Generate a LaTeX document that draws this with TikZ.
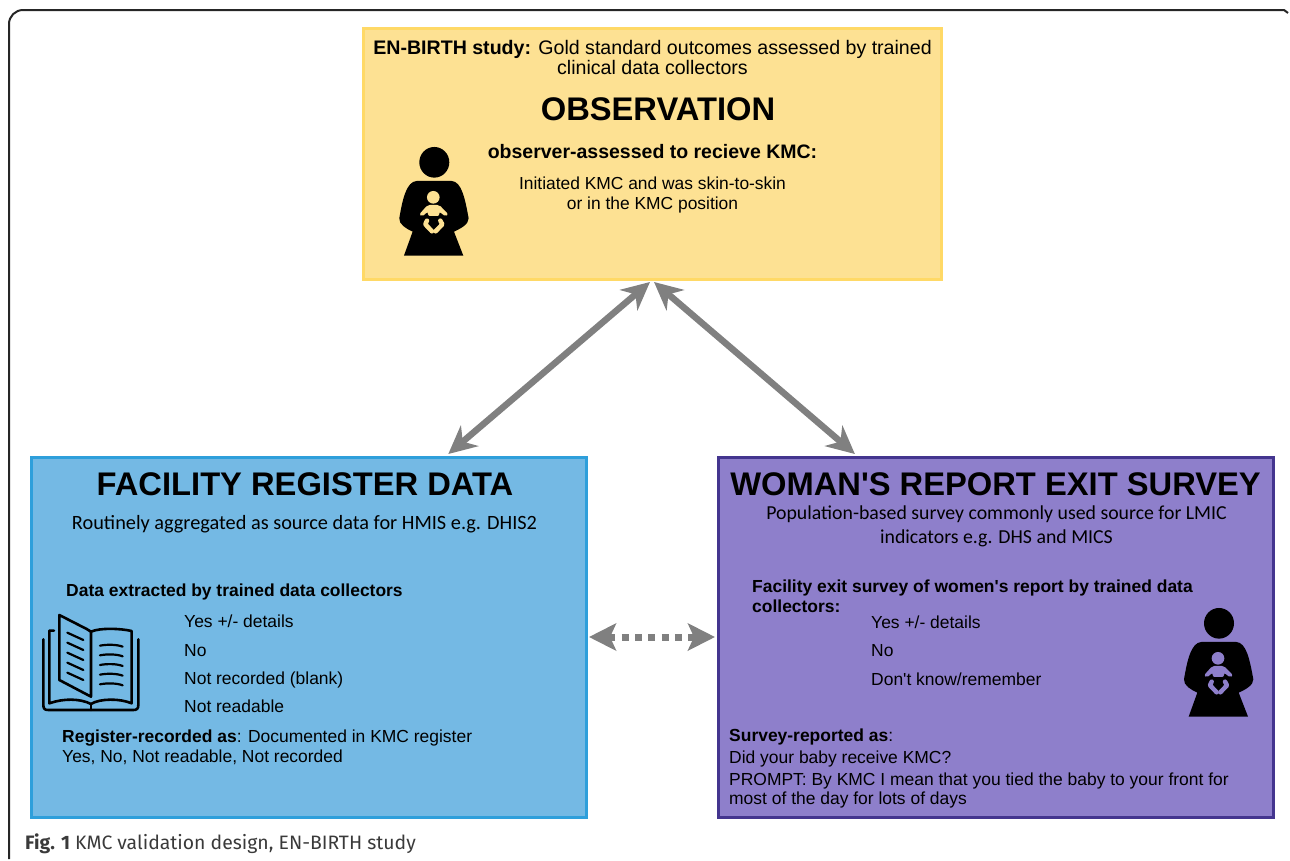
\documentclass[tikz,border=0pt]{standalone}
\usepackage{fontspec}
\setmainfont{Liberation Sans}[Ligatures=TeXOff]
\newfontfamily\calib{Carlito}[Ligatures=TeXOff]
\newfontfamily\capfont{Fira Sans}
\usetikzlibrary{arrows.meta,calc}
\definecolor{yfill}{HTML}{FDE193}
\definecolor{yline}{HTML}{FFD966}
\definecolor{bfill}{HTML}{74B9E4}
\definecolor{bline}{HTML}{2E9FDB}
\definecolor{pfill}{HTML}{8E7FCB}
\definecolor{pline}{HTML}{44358F}
\definecolor{arrowgrey}{HTML}{808080}
\definecolor{capgrey}{HTML}{3A3A3A}
\newcommand{\fsz}[1]{\fontsize{#1}{#1}\selectfont}
\tikzset{
  box/.style={draw=#1,line width=3pt,minimum width=0pt,inner sep=0pt},
  txt/.style={anchor=base west,inner sep=0pt,font=\fsz{17.45}},
  ctxt/.style={anchor=base,inner sep=0pt,font=\fsz{17.45}},
  biglabel/.style={anchor=base,inner sep=0pt,font=\fsz{32.7}\bfseries},
  link/.style={arrowgrey,line width=6.5pt,{Stealth[length=28pt,width=27pt,inset=9pt]}-{Stealth[length=28pt,width=27pt,inset=9pt]}},
  linkd/.style={arrowgrey,line width=7pt,dash pattern=on 7pt off 6.3pt,{Stealth[length=27pt,width=27pt,inset=6pt]}-{Stealth[length=27pt,width=27pt,inset=6pt]}},
  pics/mother/.style={code={
    \begin{scope}[x=0.3333pt,y=-0.3333pt,xshift=-163*0.3333pt,yshift=82*0.3333pt]
      \fill[black] (163,82) ellipse (45 and 46);
      \fill[black] (110,138) -- (215,138) .. controls (245,140) and (255,190) .. (266,250) .. controls (267,268) and (240,282) .. (222,290) -- (250,362) -- (72,362) -- (98,290) .. controls (80,282) and (56,268) .. (58,250) .. controls (68,190) and (80,140) .. (110,138) -- cycle;
      \fill[#1] (160,187) circle (19);
      \fill[#1,rounded corners=2pt] (143,210) -- (178,210) -- (205,238) -- (197,245) -- (178,230) -- (178,243) -- (144,243) -- (144,230) -- (126,245) -- (118,238) -- cycle;
      \draw[#1,line width=4.5pt,line cap=round,line join=round] (141,257) -- (136,268) -- (156,289);
      \draw[#1,line width=4.5pt,line cap=round,line join=round] (181,257) -- (187,268) -- (167,289);
    \end{scope}
  }},
  bookline/.style={black,line width=2.6pt,line cap=round,line join=round}
}
\begin{document}
\begin{tikzpicture}[x=1pt,y=-1pt]
\useasboundingbox (0,0) rectangle (1290,860);
% page frame
\draw[black!85,line width=2pt] (9,859) -- (9,24) arc[start angle=180,end angle=90,radius=14pt] -- (1284,10) -- (1288,13);
% boxes
\node[box=yline,fill=yfill,minimum width=578pt,minimum height=251pt] (obs) at (652,153.5) {};
\node[box=bline,fill=bfill,minimum width=555pt,minimum height=360pt] (reg) at (308.5,637) {};
\node[box=pline,fill=pfill,minimum width=555pt,minimum height=360pt] (sur) at (995.5,637) {};
% observation text
\node[ctxt,font=\fsz{19.6}] (o1) at (652.5,54) {\textbf{EN-BIRTH study:} Gold standard outcomes assessed by trained};
\node[ctxt,font=\fsz{19.6}] (o2) at (652.5,74) {clinical data collectors};
\node[biglabel] (o3) at (658,120) {OBSERVATION};
\node[ctxt,font=\fsz{19.5}\bfseries] (o4) at (652.5,158) {observer-assessed to recieve KMC:};
\node[ctxt,font=\fsz{17.4}] (o5) at (652.5,189) {Initiated KMC and was skin-to-skin};
\node[ctxt,font=\fsz{17.4}] (o6) at (652.5,209) {or in the KMC position};
\pic at (434.3,162.3) {mother=yfill};
% register text
\node[biglabel] (r1) at (305,495) {FACILITY REGISTER DATA};
\node[ctxt,font=\fsz{20.3}\calib] (r2) at (304.5,529) {Routinely aggregated as source data for HMIS e.g. DHIS2};
\node[txt,font=\fsz{17.45}\bfseries] (r3) at (66,596) {Data extracted by trained data collectors};
\node[txt] (r4) at (184,627) {Yes +/- details};
\node[txt] (r5) at (184,656) {No};
\node[txt] (r6) at (184,684) {Not recorded (blank)};
\node[txt] (r7) at (184,712) {Not readable};
\node[txt] (r8) at (62,742) {\textbf{Register-recorded as}: Documented in KMC register};
\node[txt] (r9) at (62,762) {Yes, No, Not readable, Not recorded};
% book icon
\begin{scope}[x=0.3333pt,y=-0.3333pt,xshift=20pt,yshift=-560pt]
  \draw[bookline] (118,165) -- (200,207) -- (213,215) -- (213,410) -- (118,360) -- cycle;
  \draw[bookline] (213,215) .. controls (240,203) and (300,205) .. (335,213) -- (335,430) .. controls (300,415) and (240,415) .. (213,432) .. controls (180,415) and (130,415) .. (88,430) -- (88,212) -- (102,212);
  \draw[bookline] (70,238) -- (70,435) .. controls (70,447) and (75,450) .. (85,450) -- (340,450) .. controls (350,450) and (355,447) .. (355,435) -- (355,238);
  \draw[bookline] (213,432) -- (213,450);
  \foreach \k in {0,1,2,3,4} {
    \draw[bookline,line width=2.2pt] (142,{218+30*\k}) -- (190,{240+30*\k});
    \draw[bookline,line width=2.2pt] (240,{257+29*\k}) .. controls (260,{253+29*\k}) and (290,{253+29*\k}) .. (308,{260+29*\k});
  }
\end{scope}
% survey text
\node[biglabel] (s1) at (995.5,495) {WOMAN'S REPORT EXIT SURVEY};
\node[ctxt,font=\fsz{19.8}\calib] (s2) at (996.5,519) {Population-based survey commonly used source for LMIC};
\node[ctxt,font=\fsz{19.8}\calib] (s3) at (996.5,543) {indicators e.g. DHS and MICS};
\node[txt,font=\fsz{17.45}\bfseries] (s4) at (752,592) {Facility exit survey of women's report by trained data};
\node[txt,font=\fsz{17.45}\bfseries] (s5) at (752,612) {collectors:};
\node[txt] (s6) at (871,628) {Yes +/- details};
\node[txt] (s7) at (871,656) {No};
\node[txt] (s8) at (871,685) {Don't know/remember};
\node[txt] (s9) at (729,741) {\textbf{Survey-reported as}:};
\node[txt] (s10) at (729,763) {Did your baby receive KMC?};
\node[txt] (s11) at (729,785) {PROMPT: By KMC I mean that you tied the baby to your front for};
\node[txt] (s12) at (729,804) {most of the day for lots of days};
\pic at (1219,623.3) {mother=pfill};
% connectors
\coordinate (obsL) at ($(obs.south west)!0.4965!(obs.south east)+(0,1.5)$);
\coordinate (obsR) at ($(obs.south west)!0.5035!(obs.south east)+(0,1.5)$);
\coordinate (regT) at ($(reg.north west)!0.7505!(reg.north east)+(0,-1.5)$);
\coordinate (surT) at ($(sur.north west)!0.248!(sur.north east)+(0,-1.5)$);
\draw[link] (regT) -- (obsL);
\draw[link] (obsR) -- (surT);
\draw[linkd] ($(reg.east)+(1.5,0)$) -- ($(sur.west)+(-1.5,0)$);
% caption
\node[txt,font=\fsz{19.4}\capfont,text=capgrey] (cap) at (25,849) {\textbf{Fig. 1} KMC validation design, EN-BIRTH study};
\end{tikzpicture}
\end{document}
